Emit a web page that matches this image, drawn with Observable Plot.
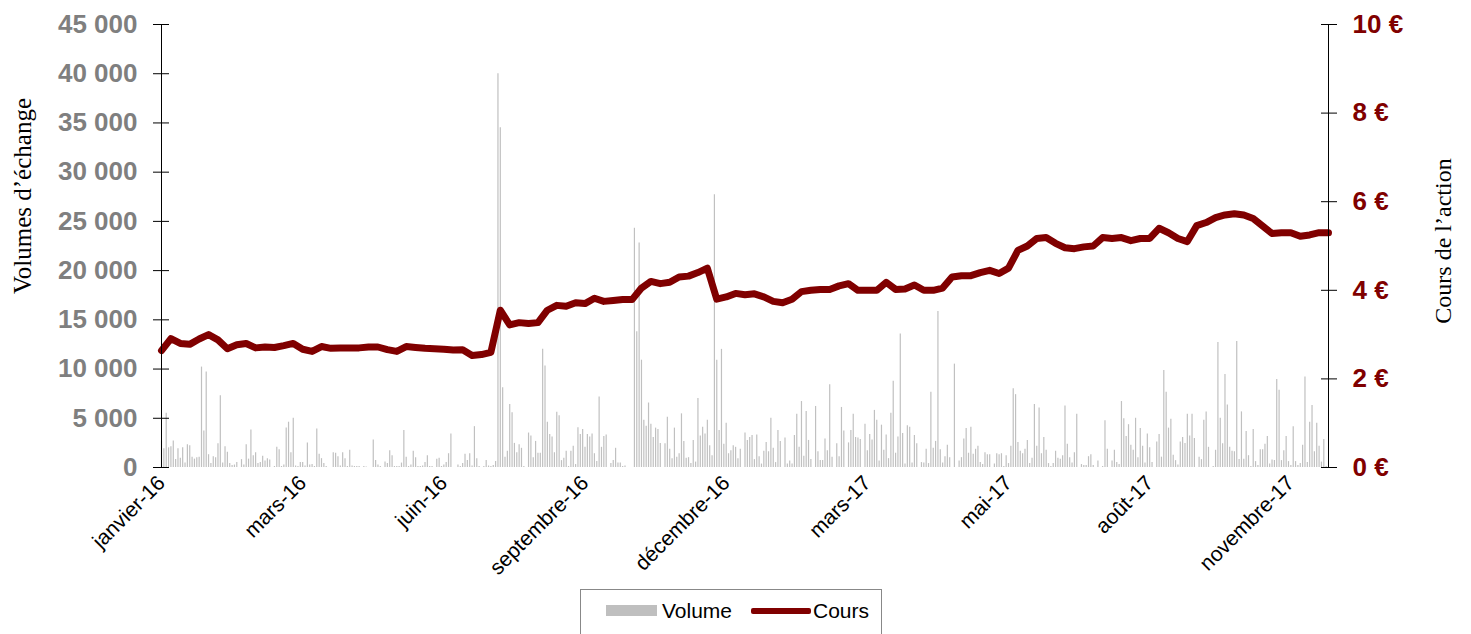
<!DOCTYPE html>
<html><head><meta charset="utf-8">
<script src="https://cdn.jsdelivr.net/npm/d3@7"></script>
<script src="https://cdn.jsdelivr.net/npm/@observablehq/plot@0.6"></script>
<style>
body{margin:0;background:#fff;font-family:"Liberation Sans",Arial,sans-serif;}
#wrap{position:relative;width:1471px;height:634px;overflow:hidden;background:#fff;}
#legend{position:absolute;left:580px;top:589px;width:302px;height:60px;border:1px solid #888;box-sizing:border-box;background:#fff;}
#legend .sw{position:absolute;}
#legend .lb{position:absolute;font-size:21px;color:#000;line-height:21px;}
</style></head><body>
<div id="wrap"><div id="chart"></div>
<div id="legend">
  <div class="sw" style="left:25px;top:15px;width:51px;height:11px;background:#bfbfbf"></div>
  <div class="lb" style="left:81px;top:10px">Volume</div>
  <div class="sw" style="left:170px;top:18px;width:60px;height:6px;background:#800000;border-radius:2px"></div>
  <div class="lb" style="left:232px;top:10px">Cours</div>
</div></div>
<script>
// Daily traded volumes (trading days, Jan 2016 - Nov 2017)
const volumes = [
2700,1900,5500,2000,2100,2700,800,1900,950,2000,450,2300,2200,1050,850,1000,1050,10200,3700,9700,1300,400,1100,1000,2400,7300,450,2100,1550,400,200,250,500,0,800,250,2300,850,3800,1200,1500,400,500,1150,650,900,750,0,100,
2050,1800,100,250,4000,4600,1500,5000,150,100,500,500,150,2500,250,300,100,3900,1350,900,400,100,0,0,1500,1450,1100,150,1500,900,100,1750,150,100,100,100,0,100,50,0,0,2800,700,250,100,0,550,400,1700,1200,
100,100,100,450,3750,1050,100,250,1650,1000,100,100,150,500,1200,100,100,0,850,950,100,250,500,1400,3400,0,0,250,100,400,1350,700,1400,150,4150,900,100,0,100,700,150,100,200,600,40000,34500,8100,1050,
1650,6400,5550,2450,1500,2300,1950,100,0,3500,3200,1000,2650,1450,1450,12000,10300,4600,3350,3100,1500,5600,5250,700,950,1650,100,1650,2150,300,4050,3350,3850,2050,3350,3100,3400,1400,600,7150,2050,3150,3300,0,400,700,1950,450,450,100,150,
0,0,0,24300,13800,22800,10900,4800,4200,6550,4400,3050,4000,3850,2450,0,2400,5100,1850,900,4000,1050,1400,5450,2650,950,1000,400,2750,550,7000,3200,4100,3400,4800,2200,1200,27700,10900,3750,12000,2350,4500,1400,1700,2200,2050,900,1850,0,3500,
2750,3050,3250,800,3300,1100,350,1650,2550,1600,5000,1950,500,3750,2650,0,3000,350,650,350,3250,5400,2050,6700,1150,5700,2750,800,0,6200,1600,700,700,2900,1700,8400,1050,0,2400,1100,6100,3700,0,2500,3750,5400,3050,3000,2850,
0,4400,1700,3350,2800,5800,4800,650,4300,1750,3300,900,5500,8750,1450,3100,13550,3450,350,4250,4100,450,3250,2400,0,500,450,1850,400,7650,1950,2650,15850,1800,450,1100,2250,1000,0,10500,0,650,1000,2900,3950,1450,4100,1350,1850,2150,
500,300,1500,1300,1300,0,350,1400,1300,1400,100,1200,400,2150,8000,7400,2550,1650,1400,1850,2750,400,950,6400,2150,6050,1400,3050,1750,400,100,400,1650,950,850,1200,6250,2350,1000,450,1500,5400,0,300,200,200,1100,1300,200,0,
650,0,100,4750,1850,0,650,1750,500,300,6700,4950,3150,4350,2250,1750,5000,1000,3950,2150,450,3400,2000,500,0,2600,3350,1050,9850,7650,4000,4900,1250,700,250,2600,3050,2450,5400,3200,5400,2950,0,1050,800,4800,5650,2050,0,100,
1750,12700,5000,2400,9450,6350,2050,1650,1600,12800,800,5650,850,3650,1200,100,3850,600,200,1800,1800,2350,3150,350,750,700,8950,7850,700,1700,3150,600,200,4150,600,200,400,2250,9200,500,4600,6300,1600,4500,2150,550,2850,100
];
// Share price (€), one reading every 4 trading days
const priceStepDays = 4;
const prices = [
2.64,2.91,2.80,2.78,2.90,3.00,2.88,2.68,2.77,2.80,
2.70,2.72,2.71,2.75,2.80,2.67,2.62,2.73,2.69,2.70,
2.70,2.70,2.72,2.72,2.66,2.62,2.73,2.71,2.69,2.68,
2.67,2.65,2.66,2.53,2.55,2.60,3.55,3.22,3.27,3.25,
3.27,3.55,3.66,3.64,3.72,3.70,3.82,3.75,3.77,3.79,
3.79,4.05,4.20,4.15,4.18,4.30,4.32,4.40,4.50,3.80,
3.85,3.93,3.90,3.92,3.85,3.75,3.72,3.80,3.97,4.00,
4.02,4.02,4.10,4.15,4.00,4.00,4.00,4.18,4.02,4.03,
4.12,4.00,4.00,4.05,4.30,4.33,4.33,4.40,4.45,4.38,
4.50,4.90,5.00,5.17,5.19,5.06,4.96,4.94,4.98,5.00,
5.19,5.17,5.19,5.12,5.17,5.17,5.40,5.30,5.17,5.10,
5.46,5.53,5.64,5.70,5.73,5.70,5.62,5.45,5.28,5.30,
5.30,5.22,5.25,5.30,5.30
];
const tickDays = [0,60,120,180,240,300,360,420,480];
const tickLabels = ["janvier-16","mars-16","juin-16","septembre-16","décembre-16","mars-17","mai-17","août-17","novembre-17"];
const volumeTicks = [0,5000,10000,15000,20000,25000,30000,35000,40000,45000];
const priceTicks = [0,2,4,6,8,10];
const volumeMax = 45000, priceMax = 10;
const leftTitle = "Volumes d’échange";
const rightTitle = "Cours de l’action";

const k = volumeMax / priceMax;
const N = volumes.length;
const volData = volumes.map((v, i) => ({day: i, v}));
const priceData = prices.map((p, i) => ({day: i * priceStepDays, p}));
const fmtVol = d => d3.format(",")(d).replace(/,/g, " ");
const serif = "'Liberation Serif', 'Times New Roman', serif";

const chart = Plot.plot({
  width: 1471, height: 584,
  marginTop: 24, marginBottom: 117, marginLeft: 161, marginRight: 143,
  x: {domain: [0, N], label: null},
  y: {domain: [0, volumeMax], label: null},
  style: {fontFamily: "'Liberation Sans', Arial, sans-serif", background: "white", overflow: "visible"},
  marks: [
    Plot.ruleX(volData, {x: "day", y1: 0, y2: "v", stroke: "#c0c0c0", strokeWidth: 1.2}),
    Plot.line(priceData, {x: "day", y: d => d.p * k, stroke: "#800000", strokeWidth: 7, strokeLinejoin: "round", strokeLinecap: "round"}),
    Plot.ruleX([0, N], {y1: 0, y2: volumeMax, stroke: "black", strokeWidth: 1}),
    Plot.axisY(volumeTicks, {anchor: "left", tickSize: 16, dx: 8, fill: "none", stroke: "black"}),
    Plot.axisY(volumeTicks, {anchor: "left", tickSize: 0, tickPadding: 24, stroke: "none", tickFormat: fmtVol, fill: "#7f7f7f", fontWeight: "bold", fontSize: 26}),
    Plot.axisY(priceTicks.map(p => p * k), {anchor: "right", tickSize: 16, dx: -8, fill: "none", stroke: "black"}),
    Plot.axisY(priceTicks.map(p => p * k), {anchor: "right", tickSize: 0, tickPadding: 24, stroke: "none", tickFormat: d => (d / k) + " €", fill: "#800000", fontWeight: "bold", fontSize: 26}),
    Plot.axisX(tickDays, {tickSize: 0, tickPadding: 12, tickRotate: -45, tickFormat: d => tickLabels[tickDays.indexOf(d)], fill: "black", fontSize: 21}),
    Plot.text([leftTitle], {frameAnchor: "left", textAnchor: "middle", rotate: -90, dx: -139, dy: -50, fontFamily: serif, fontSize: 25, fill: "black"}),
    Plot.text([rightTitle], {frameAnchor: "right", textAnchor: "middle", rotate: -90, dx: 115, dy: -5, fontFamily: serif, fontSize: 24, fill: "black"})
  ]
});
document.getElementById("chart").appendChild(chart);
</script>
</body></html>
